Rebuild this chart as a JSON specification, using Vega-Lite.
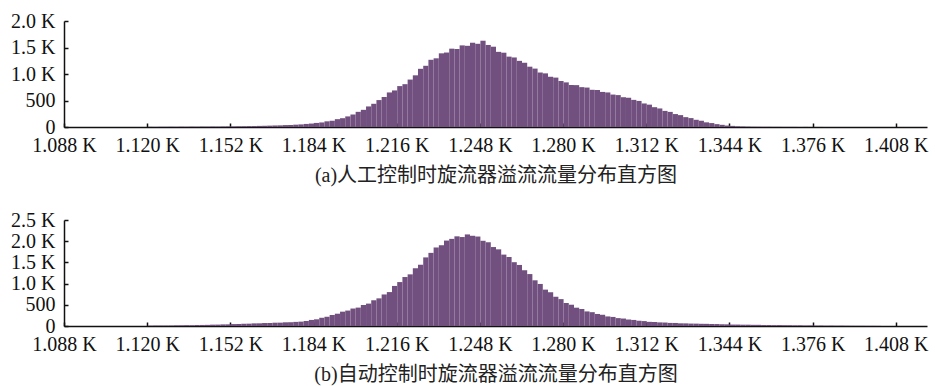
{
  "$schema": "https://vega.github.io/schema/vega-lite/v6.json",
  "padding": {"left": 10, "top": 11, "right": 4, "bottom": 2},
  "background": "white",
  "spacing": 25,
  "config": {
    "view": {"stroke": null},
    "font": "Liberation Serif",
    "axis": {
      "grid": false,
      "labelFont": "Liberation Serif",
      "labelFontSize": 20,
      "labelColor": "#111111",
      "domainColor": "#111111",
      "domainWidth": 1.5,
      "tickColor": "#111111",
      "tickWidth": 1.5,
      "titleFont": "Liberation Serif, Noto Sans CJK SC",
      "titleFontSize": 20,
      "titleFontWeight": "normal",
      "titleColor": "#222222"
    }
  },
  "data": {"values": [
    {"x":1120,"a":4,"b":10},{"x":1122,"a":3,"b":12},{"x":1124,"a":5,"b":11},{"x":1126,"a":4,"b":14},{"x":1128,"a":6,"b":13},
    {"x":1130,"a":5,"b":16},{"x":1132,"a":7,"b":17},{"x":1134,"a":6,"b":20},{"x":1136,"a":8,"b":19},{"x":1138,"a":7,"b":24},
    {"x":1140,"a":9,"b":25},{"x":1142,"a":8,"b":27},{"x":1144,"a":10,"b":32},{"x":1146,"a":9,"b":33},{"x":1148,"a":11,"b":38},
    {"x":1150,"a":12,"b":39},{"x":1152,"a":12,"b":45},{"x":1154,"a":14,"b":47},{"x":1156,"a":15,"b":53},{"x":1158,"a":17,"b":55},
    {"x":1160,"a":18,"b":62},{"x":1162,"a":21,"b":63},{"x":1164,"a":23,"b":70},{"x":1166,"a":26,"b":71},{"x":1168,"a":29,"b":78},
    {"x":1170,"a":31,"b":79},{"x":1172,"a":36,"b":87},{"x":1174,"a":38,"b":89},{"x":1176,"a":44,"b":97},{"x":1178,"a":49,"b":103},
    {"x":1180,"a":58,"b":118},{"x":1182,"a":65,"b":143},{"x":1184,"a":77,"b":158},{"x":1186,"a":86,"b":194},{"x":1188,"a":107,"b":218},
    {"x":1190,"a":118,"b":260},{"x":1192,"a":148,"b":290},{"x":1194,"a":166,"b":338},{"x":1196,"a":200,"b":364},{"x":1198,"a":236,"b":412},
    {"x":1200,"a":286,"b":434},{"x":1202,"a":324,"b":496},{"x":1204,"a":388,"b":528},{"x":1206,"a":438,"b":607},{"x":1208,"a":508,"b":652},
    {"x":1210,"a":566,"b":744},{"x":1212,"a":652,"b":800},{"x":1214,"a":690,"b":945},{"x":1216,"a":772,"b":1036},{"x":1218,"a":808,"b":1155},
    {"x":1220,"a":895,"b":1218},{"x":1222,"a":975,"b":1362},{"x":1224,"a":1098,"b":1445},{"x":1226,"a":1155,"b":1618},{"x":1228,"a":1268,"b":1725},
    {"x":1230,"a":1296,"b":1852},{"x":1232,"a":1390,"b":1905},{"x":1234,"a":1405,"b":2015},{"x":1236,"a":1478,"b":2055},{"x":1238,"a":1472,"b":2115},
    {"x":1240,"a":1540,"b":2098},{"x":1242,"a":1532,"b":2160},{"x":1244,"a":1590,"b":2128},{"x":1246,"a":1570,"b":2110},{"x":1248,"a":1628,"b":2010},
    {"x":1250,"a":1548,"b":1975},{"x":1252,"a":1515,"b":1862},{"x":1254,"a":1418,"b":1808},{"x":1256,"a":1402,"b":1684},{"x":1258,"a":1328,"b":1628},
    {"x":1260,"a":1312,"b":1505},{"x":1262,"a":1248,"b":1440},{"x":1264,"a":1212,"b":1315},{"x":1266,"a":1138,"b":1225},{"x":1268,"a":1102,"b":1078},
    {"x":1270,"a":1028,"b":992},{"x":1272,"a":1012,"b":858},{"x":1274,"a":948,"b":796},{"x":1276,"a":932,"b":690},{"x":1278,"a":868,"b":634},
    {"x":1280,"a":842,"b":542},{"x":1282,"a":792,"b":502},{"x":1284,"a":790,"b":432},{"x":1286,"a":752,"b":401},{"x":1288,"a":744,"b":344},
    {"x":1290,"a":702,"b":326},{"x":1292,"a":698,"b":284},{"x":1294,"a":662,"b":265},{"x":1296,"a":652,"b":226},{"x":1298,"a":612,"b":214},
    {"x":1300,"a":602,"b":186},{"x":1302,"a":562,"b":176},{"x":1304,"a":552,"b":153},{"x":1306,"a":512,"b":143},{"x":1308,"a":492,"b":124},
    {"x":1310,"a":444,"b":116},{"x":1312,"a":422,"b":98},{"x":1314,"a":374,"b":95},{"x":1316,"a":350,"b":85},{"x":1318,"a":304,"b":82},
    {"x":1320,"a":285,"b":73},{"x":1322,"a":244,"b":72},{"x":1324,"a":224,"b":63},{"x":1326,"a":186,"b":62},{"x":1328,"a":168,"b":57},
    {"x":1330,"a":136,"b":56},{"x":1332,"a":118,"b":52},{"x":1334,"a":88,"b":51},{"x":1336,"a":74,"b":47},{"x":1338,"a":54,"b":46},
    {"x":1340,"a":41,"b":41},{"x":1342,"a":27,"b":39},{"x":1344,"a":21,"b":34},{"x":1346,"a":14,"b":34},{"x":1348,"a":11,"b":31},
    {"x":1350,"a":8,"b":31},{"x":1352,"a":6,"b":28},{"x":1354,"a":5,"b":28},{"x":1356,"a":4,"b":24},{"x":1358,"a":4,"b":24},
    {"x":1360,"a":3,"b":21},{"x":1362,"a":3,"b":22},{"x":1364,"a":2,"b":19},{"x":1366,"a":2,"b":19},{"x":1368,"a":2,"b":16},
    {"x":1370,"a":1,"b":17},{"x":1372,"a":2,"b":13},{"x":1374,"a":1,"b":14},{"x":1376,"a":1,"b":11},{"x":1378,"a":1,"b":12},
    {"x":1380,"a":0,"b":9},{"x":1382,"a":0,"b":10},{"x":1384,"a":0,"b":8},{"x":1386,"a":0,"b":9},{"x":1388,"a":0,"b":7},
    {"x":1390,"a":0,"b":6},{"x":1392,"a":0,"b":5},{"x":1394,"a":0,"b":5},{"x":1396,"a":0,"b":4},{"x":1398,"a":0,"b":4},
    {"x":1400,"a":0,"b":3}
  ]},
  "vconcat": [
    {
      "width": 863,
      "height": 106,
      "mark": {"type": "bar", "color": "#71507f", "binSpacing": 0},
      "encoding": {
        "x": {
          "field": "x", "type": "quantitative",
          "bin": {"binned": true, "step": 2},
          "scale": {"domain": [1088, 1420], "nice": false, "zero": false},
          "axis": {
            "values": [1088,1120,1152,1184,1216,1248,1280,1312,1344,1376,1408],
            "labelExpr": "format(datum.value/1000, '.3f') + ' K'",
            "tickSize": -4,
            "labelPadding": 12,
            "labelFlush": false,
            "labelOverlap": false,
            "title": "(a)人工控制时旋流器溢流流量分布直方图",
            "titlePadding": 10
          }
        },
        "y": {
          "field": "a", "type": "quantitative",
          "scale": {"domain": [0, 2000], "nice": false},
          "axis": {
            "values": [0, 500, 1000, 1500, 2000],
            "labelExpr": "datum.value >= 1000 ? format(datum.value/1000, '.1f') + ' K' : datum.value",
            "tickSize": -4,
            "labelPadding": 13,
            "labelFlush": false,
            "labelOverlap": false,
            "title": null
          }
        }
      }
    },
    {
      "width": 863,
      "height": 106,
      "mark": {"type": "bar", "color": "#71507f", "binSpacing": 0},
      "encoding": {
        "x": {
          "field": "x", "type": "quantitative",
          "bin": {"binned": true, "step": 2},
          "scale": {"domain": [1088, 1420], "nice": false, "zero": false},
          "axis": {
            "values": [1088,1120,1152,1184,1216,1248,1280,1312,1344,1376,1408],
            "labelExpr": "format(datum.value/1000, '.3f') + ' K'",
            "tickSize": -4,
            "labelPadding": 12,
            "labelFlush": false,
            "labelOverlap": false,
            "title": "(b)自动控制时旋流器溢流流量分布直方图",
            "titlePadding": 10
          }
        },
        "y": {
          "field": "b", "type": "quantitative",
          "scale": {"domain": [0, 2500], "nice": false},
          "axis": {
            "values": [0, 500, 1000, 1500, 2000, 2500],
            "labelExpr": "datum.value >= 1000 ? format(datum.value/1000, '.1f') + ' K' : datum.value",
            "tickSize": -4,
            "labelPadding": 13,
            "labelFlush": false,
            "labelOverlap": false,
            "title": null
          }
        }
      }
    }
  ]
}
